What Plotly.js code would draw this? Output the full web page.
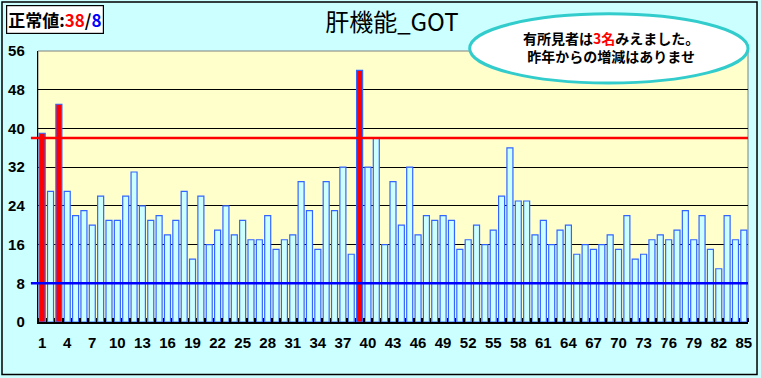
<!DOCTYPE html>
<html>
<head>
<meta charset="utf-8">
<script src="https://cdn.plot.ly/plotly-3.0.1.min.js"></script>
<style>html,body{margin:0;padding:0;background:#CCFFFF;}#chart{width:761px;height:378px;}</style>
</head>
<body>
<div id="chart"></div>
<script>
// Data
var subjects = [];
for (var i = 1; i <= 85; i++) subjects.push(i);
var gotValues = [39,27,45,27,22,23,20,26,21,21,26,31,24,21,22,18,21,27,13,26,
                 16,19,24,18,21,17,17,22,15,17,18,29,23,15,29,23,32,14,52,32,
                 38,16,29,20,32,18,22,21,22,21,15,17,20,16,19,26,36,25,25,18,
                 21,16,19,20,14,16,15,16,18,15,22,13,14,17,18,17,19,23,17,22,
                 15,11,22,17,19];
var tickLabels = [1,4,7,10,13,16,19,22,25,28,31,34,37,40,43,46,49,52,55,58,61,64,67,70,73,76,79,82,85];
var yTicks = [0,8,16,24,32,40,48,56];
var upperLimit = 38;
var lowerLimit = 8;
var chartTitle = '肝機能_GOT';
var noteLine1 = '有所見者は<span style="color:#FF0000">3名</span>みえました。';
var noteLine2 = '昨年からの増減はありませ';

var fillColors = gotValues.map(function(v){ return v > upperLimit ? '#FF0000' : '#CCFFFF'; });

var trace = {
  type: 'bar',
  x: subjects,
  y: gotValues,
  width: 0.72,
  marker: { color: fillColors, line: { color: '#3366FF', width: 1.2 } },
  hoverinfo: 'none'
};

var cjk = '"Noto Sans CJK JP", "Noto Sans", sans-serif';
var tickFont = { family: 'Liberation Sans, Arial, sans-serif', size: 15, color: '#000', weight: 'bold' };

var layout = {
  width: 761, height: 378,
  margin: { l: 38, r: 13, t: 51, b: 56, pad: 0 },
  paper_bgcolor: '#CCFFFF',
  plot_bgcolor: '#FFFFCC',
  showlegend: false,
  bargap: 0,
  title: { text: chartTitle, font: { family: cjk, size: 24, color: '#000' }, x: 0.515, xanchor: 'center', y: 0.94, yanchor: 'middle', xref: 'container', yref: 'container' },
  xaxis: {
    range: [0.5, 85.5],
    tickmode: 'array', tickvals: tickLabels, ticktext: tickLabels.map(String),
    ticks: '', showgrid: false, zeroline: false,
    showline: true, linecolor: '#000', linewidth: 1.5,
    tickfont: tickFont,
    ticklabelstandoff: 6,
    minor: { tick0: 0.5, dtick: 1, ticks: 'inside', ticklen: 4, tickcolor: '#000', tickwidth: 1.5, showgrid: false }
  },
  yaxis: {
    range: [0, 56],
    tickmode: 'array', tickvals: yTicks, ticktext: yTicks.map(String),
    showgrid: true, gridcolor: '#000', gridwidth: 1.2,
    zeroline: false,
    showline: true, linecolor: '#000', linewidth: 1.2,
    ticks: '', tickfont: tickFont, ticklabelstandoff: 9
  },
  shapes: [
    { type: 'rect', xref: 'paper', yref: 'paper', x0: 0, x1: 1, y0: 0, y1: 1, line: { color: '#808080', width: 1 }, layer: 'below' },
    { type: 'line', xref: 'paper', yref: 'y', x0: -0.01, x1: 1, y0: upperLimit, y1: upperLimit, line: { color: '#FF0000', width: 2.5 }, layer: 'above' },
    { type: 'line', xref: 'paper', yref: 'y', x0: -0.01, x1: 1, y0: lowerLimit, y1: lowerLimit, line: { color: '#0000FF', width: 2.5 }, layer: 'above' },
    { type: 'circle', xref: 'paper', yref: 'paper', x0: 0.608, x1: 1.0, y0: 0.882, y1: 1.137, line: { color: '#33CCCC', width: 3 }, fillcolor: '#FFFFFF', layer: 'above' },
    { type: 'rect', xref: 'paper', yref: 'paper', x0: -0.0507, x1: 1.0127, y0: -0.1936, y1: 1.181, line: { color: '#000', width: 1.5 }, layer: 'above' }
  ],
  annotations: [
    { xref: 'paper', yref: 'paper', x: -0.0451, y: 1.17, xanchor: 'left', yanchor: 'top', showarrow: false,
      text: '正常値:<span style="color:#FF0000">38</span>/<span style="color:#0000FF">8</span>',
      font: { family: cjk, size: 17, color: '#000', weight: 'bold' }, bgcolor: '#FFFFFF', bordercolor: '#000', borderwidth: 1.2, borderpad: 1 },
    { xref: 'paper', yref: 'paper', x: 0.8065, y: 1.016, xanchor: 'center', yanchor: 'middle', showarrow: false,
      text: noteLine1 + '<br>' + noteLine2, align: 'center',
      font: { family: cjk, size: 14, color: '#000', weight: 'bold' } }
  ]
};

Plotly.newPlot('chart', [trace], layout, { displayModeBar: false, staticPlot: true });
</script>
</body>
</html>
